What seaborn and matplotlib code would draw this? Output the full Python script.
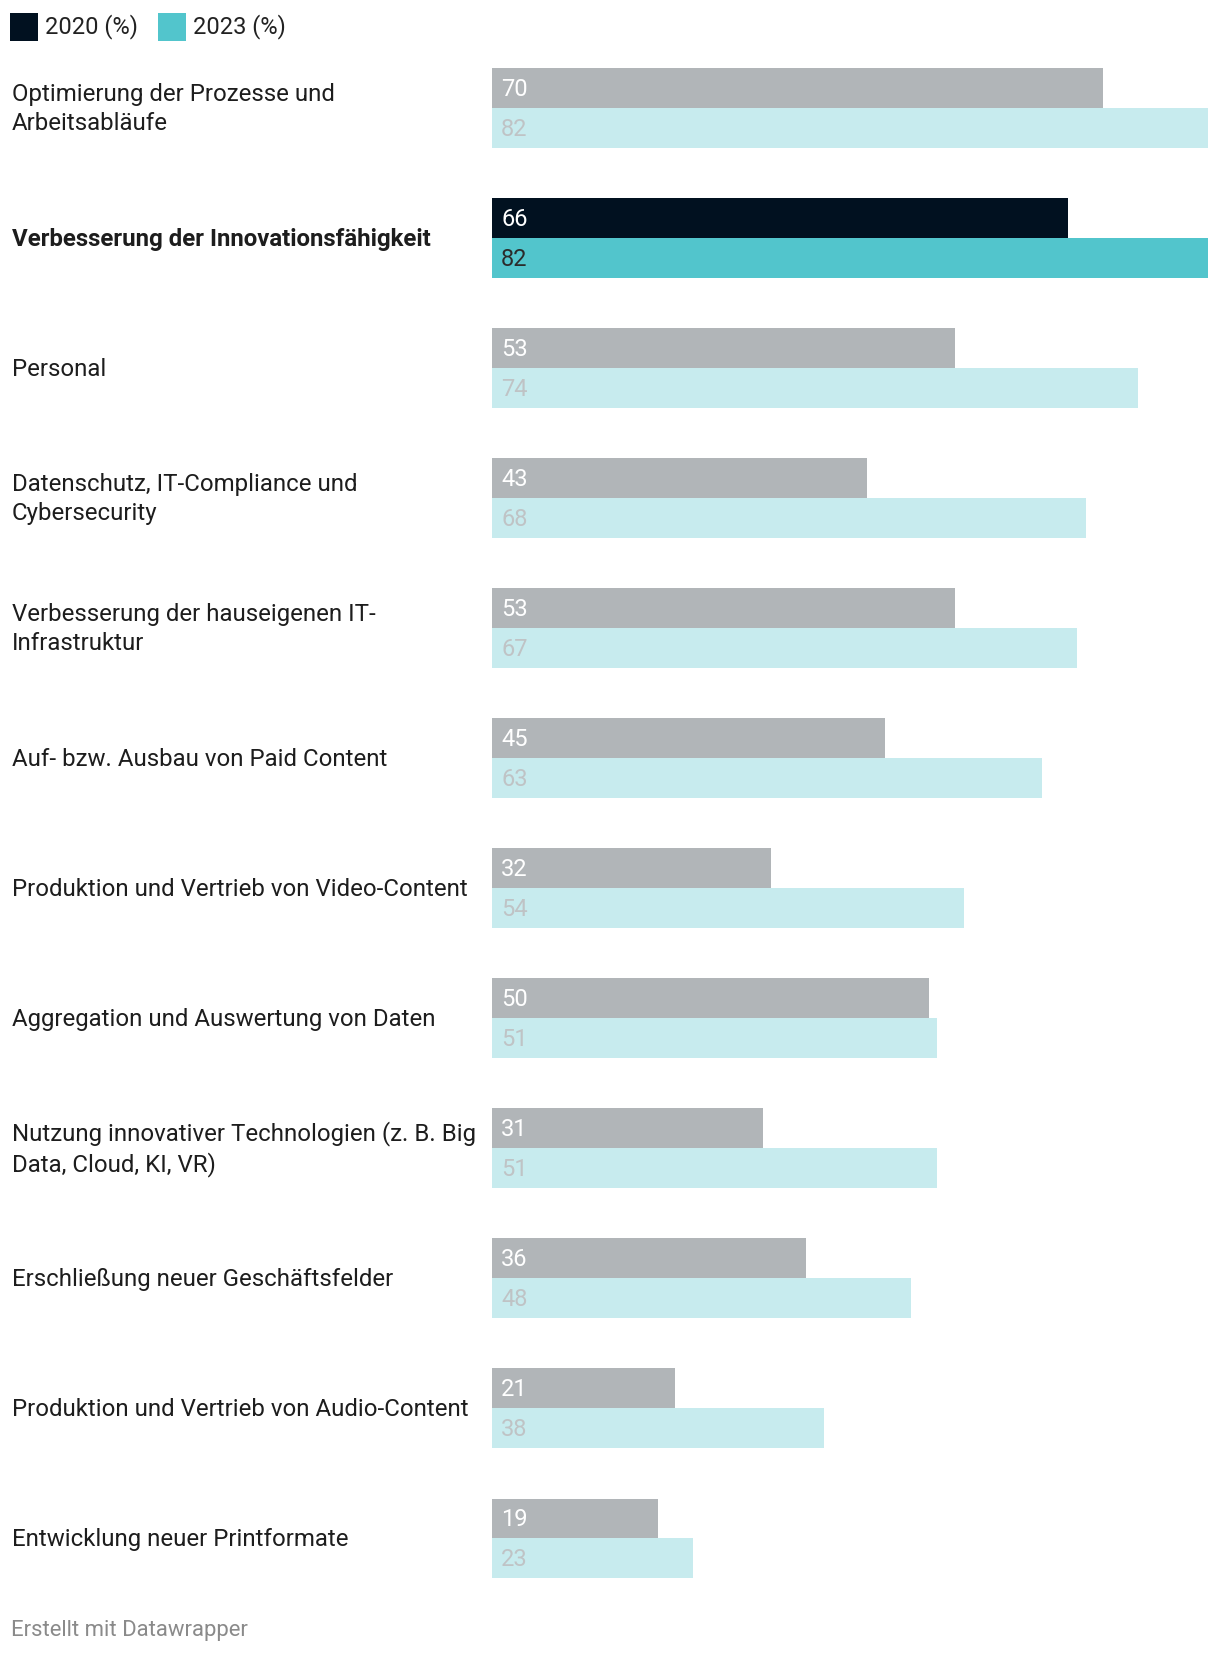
import pandas as pd
import matplotlib.pyplot as plt
import seaborn as sns
from matplotlib.patches import Rectangle
from matplotlib.transforms import blended_transform_factory

# Data
categories = [
    "Optimierung der Prozesse und\nArbeitsabläufe",
    "Verbesserung der Innovationsfähigkeit",
    "Personal",
    "Datenschutz, IT-Compliance und\nCybersecurity",
    "Verbesserung der hauseigenen IT-\nInfrastruktur",
    "Auf- bzw. Ausbau von Paid Content",
    "Produktion und Vertrieb von Video-Content",
    "Aggregation und Auswertung von Daten",
    "Nutzung innovativer Technologien (z. B. Big\nData, Cloud, KI, VR)",
    "Erschließung neuer Geschäftsfelder",
    "Produktion und Vertrieb von Audio-Content",
    "Entwicklung neuer Printformate",
]
values_2020 = [70, 66, 53, 43, 53, 45, 32, 50, 31, 36, 21, 19]
values_2023 = [82, 82, 74, 68, 67, 63, 54, 51, 51, 48, 38, 23]
series = ["2020 (%)", "2023 (%)"]
highlight = 1

df = pd.DataFrame({
    "Kategorie": categories * 2,
    "Wert": values_2020 + values_2023,
    "Jahr": [series[0]] * len(categories) + [series[1]] * len(categories),
})

sns.set_theme(style="white")
plt.rcParams["font.family"] = ["Roboto", "DejaVu Sans"]

W, H = 1220, 1656
fig = plt.figure(figsize=(W / 100, H / 100), dpi=100)
ax = fig.add_axes([492 / W, 0.0311, 716 / W, 0.9422])

sns.barplot(data=df, y="Kategorie", x="Wert", hue="Jahr", orient="h",
            palette=["#b1b5b8", "#c7ebee"], width=0.615, saturation=1,
            legend=False, ax=ax)

ax.set_xlim(0, 82)
ax.set_ylim(len(categories) - 0.5, -0.5)
ax.axis("off")

# colours: highlighted row in full colour
for ci, cont in enumerate(ax.containers):
    for i, bar in enumerate(cont):
        bar.set_linewidth(0)
        if i == highlight:
            bar.set_facecolor("#011120" if ci == 0 else "#52c5cc")

# value labels inside the bars, at the left edge
label_colors = {0: "white", 1: "#bfc3c5"}
for ci, cont in enumerate(ax.containers):
    for i, bar in enumerate(cont):
        col = label_colors[ci]
        if i == highlight:
            col = "white" if ci == 0 else "#2b2b2b"
        ax.annotate(f"{int(bar.get_width())}",
                    xy=(bar.get_x(), bar.get_y() + bar.get_height() / 2),
                    xytext=(6.5, 0), textcoords="offset points",
                    va="center", ha="left", fontsize=17, color=col)

# category labels on the left
trans = blended_transform_factory(fig.transFigure, ax.transData)
for i, cat in enumerate(categories):
    ax.text(12 / W, i, cat, transform=trans, ha="left", va="center",
            fontsize=17.3, color="#1d1d1d", linespacing=1.32,
            fontweight="bold" if i == highlight else "normal")

# legend
for x0, col, txt in [(10, "#011120", series[0]), (158, "#52c5cc", series[1])]:
    fig.add_artist(Rectangle((x0 / W, 1 - 42 / H), 28 / W, 28 / H,
                             transform=fig.transFigure, color=col, lw=0))
    fig.text((x0 + 35) / W, 1 - 27 / H, txt, ha="left", va="center",
             fontsize=17, color="#222222")

fig.text(11 / W, 1 - 1631 / H, "Erstellt mit Datawrapper", ha="left",
         va="center", fontsize=15.9, color="#8a8a8a")

fig.savefig("out.png", dpi=100, facecolor="white")
